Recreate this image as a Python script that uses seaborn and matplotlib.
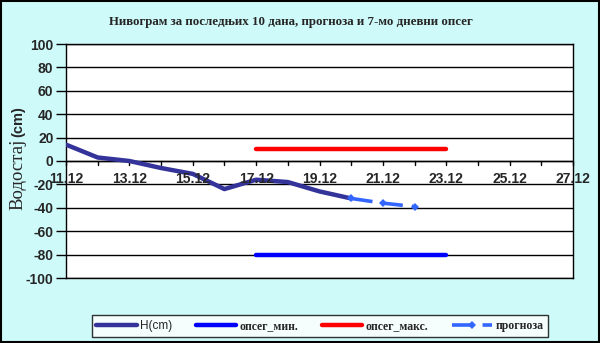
import matplotlib
matplotlib.use("Agg")
import matplotlib.pyplot as plt
import seaborn as sns
import pandas as pd
import numpy as np

# ---- data ----
h_days = [11, 12, 13, 14, 15, 16, 17, 18, 19, 20]
h_values = [14, 3, 0, -6, -11, -24, -16, -18, -26, -32]
fc_days = [20, 21, 22]
fc_values = [-32, -36, -39]
band_days = [17, 23]
band_min = [-80, -80]
band_max = [10, 10]
xtick_days = [11, 13, 15, 17, 19, 21, 23, 25, 27]
xtick_labels = ["11.12", "13.12", "15.12", "17.12", "19.12", "21.12", "23.12", "25.12", "27.12"]
yticks = list(range(-100, 101, 20))

title = "Нивограм за последњих 10 дана, прогноза и 7-мо дневни опсег"
lbl_h, lbl_min, lbl_max, lbl_fc = "H(cm)", "опсег_мин.", "опсег_макс.", "прогноза"

sns.set_style("white")
plt.rcParams["font.family"] = ["Liberation Sans", "DejaVu Sans"]
plt.rcParams["lines.scale_dashes"] = False

bg = "#cffafa"
fig = plt.figure(figsize=(6, 3.43), dpi=100, facecolor=bg)
W, H = 600, 343
ax = fig.add_axes([66 / W, 1 - 278 / H, (573 - 66) / W, (278 - 44) / H])
ax.set_facecolor("white")

df_h = pd.DataFrame({"day": h_days, "v": h_values})
df_fc = pd.DataFrame({"day": fc_days, "v": fc_values})
df_min = pd.DataFrame({"day": band_days, "v": band_min})
df_max = pd.DataFrame({"day": band_days, "v": band_max})

sns.lineplot(data=df_h, x="day", y="v", ax=ax, color="#333399", lw=3.2, label=lbl_h, zorder=4)
sns.lineplot(data=df_min, x="day", y="v", ax=ax, color="#0000ff", lw=3.2, label=lbl_min, zorder=3)
sns.lineplot(data=df_max, x="day", y="v", ax=ax, color="#ff0000", lw=3.2, label=lbl_max, zorder=3)
sns.lineplot(data=df_fc, x="day", y="v", ax=ax, color="#3366ff", lw=2.6, label=lbl_fc,
             marker="D", markersize=4, markeredgewidth=0, zorder=5)
ax.lines[-1].set_dashes((15.5, 6.5))

ax.set_xlim(11, 27)
ax.set_ylim(-100, 100)
ax.set_yticks(yticks)
ax.set_yticklabels([str(v) for v in yticks], fontsize=10, fontweight="bold")
ax.set_xticks([])
ax.grid(axis="y", color="black", lw=1)
ax.set_axisbelow(True)
for s in ax.spines.values():
    s.set_color("black")
    s.set_linewidth(1)
ax.tick_params(axis="y", left=True, length=7, width=1, color="black", pad=2)
ax.set_xlabel("")
ax.set_ylabel("")

# x axis at zero: day ticks and labels
ax.axhline(0, color="black", lw=1, zorder=2)
for d in range(11, 28):
    ax.plot([d, d], [0, -3.5], color="black", lw=1, zorder=2, clip_on=False)
for d, t in zip(xtick_days, xtick_labels):
    ax.text(d, -9, t, ha="center", va="top", fontsize=10, fontweight="bold", zorder=6)

# title and y label
fig.text(291 / W, 1 - 22 / H, title, ha="center", va="center", fontsize=9.3,
         fontweight="bold", family=["Liberation Serif", "DejaVu Serif"])
fig.text(18 / W, 1 - 174 / H, "Водостај", rotation=90, ha="center", va="center",
         fontsize=13.5, family=["Liberation Serif", "DejaVu Serif"])
fig.text(18 / W, 1 - 122 / H, "(cm)", rotation=90, ha="center", va="center",
         fontsize=10.5, fontweight="bold")

# legend
leg = ax.legend(loc="center", bbox_to_anchor=(320 / W, 1 - 326 / H), bbox_transform=fig.transFigure,
                ncol=4, frameon=True, fancybox=False, fontsize=8.5, handlelength=3.4,
                columnspacing=2.0, handletextpad=0.3, borderpad=0.4, borderaxespad=0)
leg.get_frame().set_edgecolor("black")
leg.get_frame().set_linewidth(1)
for t in leg.get_texts()[1:]:
    t.set_family(["Liberation Serif", "DejaVu Serif"])
    t.set_fontweight("bold")

# figure border
fig.patches.append(plt.Rectangle((0.001, 0.002), 0.997, 0.995, transform=fig.transFigure,
                                 fill=False, edgecolor="black", lw=1.5))

fig.savefig("out.png", dpi=100, facecolor=bg)
